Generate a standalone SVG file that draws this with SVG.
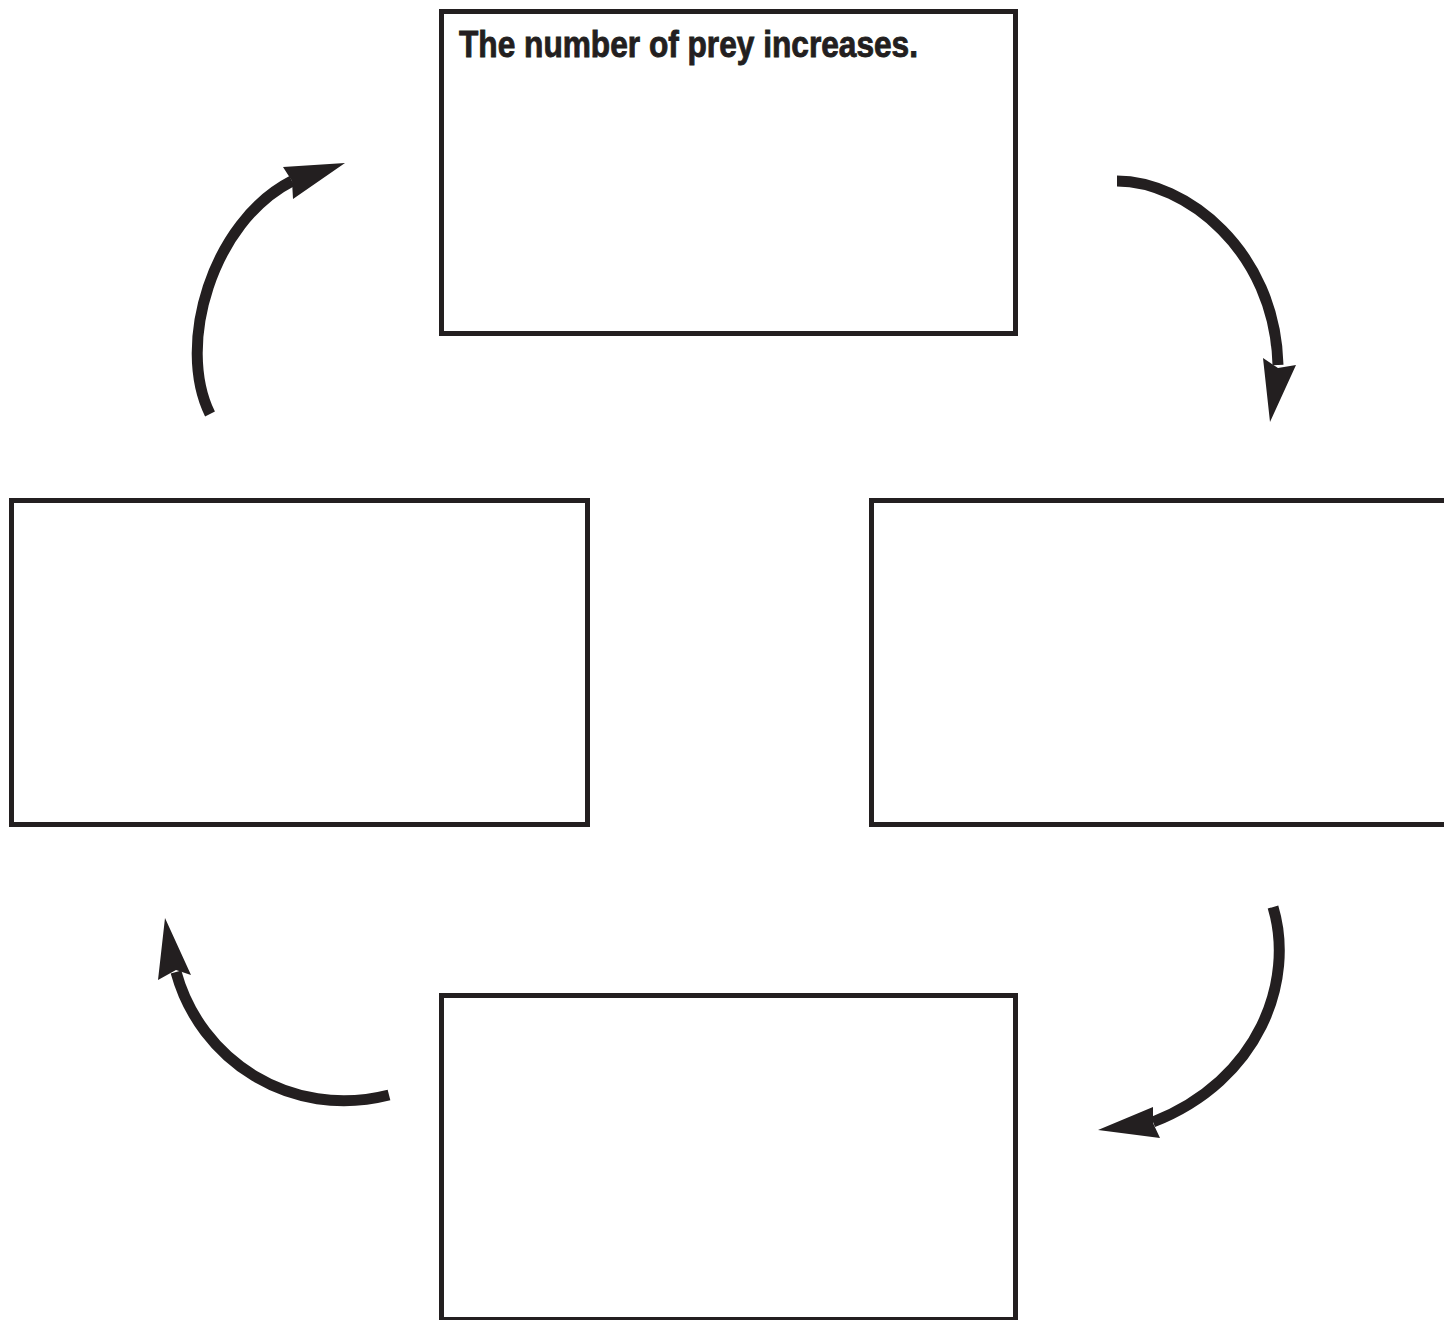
<svg xmlns="http://www.w3.org/2000/svg" width="1444" height="1320" viewBox="0 0 1444 1320">
<style>
.box{fill:#fff;stroke:#231f20;stroke-width:5}
.shaft{fill:none;stroke:#231f20;stroke-width:11}
.head{fill:#231f20}
.lbl{font-family:"Liberation Sans Narrow","Liberation Sans",Arial,sans-serif;font-stretch:condensed;font-weight:bold;font-size:37px;fill:#231f20;stroke:#231f20;stroke-width:0.9}
</style>
<rect width="1444" height="1320" fill="#fff"/>
<g id="node-top">
<rect class="box" x="441.5" y="11.5" width="574" height="322"/>
<text class="lbl" x="459" y="57" textLength="459" lengthAdjust="spacingAndGlyphs">The number of prey increases.</text>
</g>
<g id="node-right">
<rect class="box" x="871.5" y="500.5" width="576" height="324"/>
</g>
<g id="node-bottom">
<rect class="box" x="441.5" y="995.5" width="574" height="324"/>
</g>
<g id="node-left">
<rect class="box" x="11.5" y="500.5" width="576" height="324"/>
</g>
<g id="connectors">
<path class="shaft" d="M 210 414 C 176 345, 212 222, 292 181"/>
<polygon class="head" points="345,163 283,167 292,181 293,199"/>
<path class="shaft" d="M 1117 181 C 1185 181, 1275 250, 1278 365"/>
<polygon class="head" points="1270,422 1263,358 1278,368 1296,365"/>
<path class="shaft" d="M 1273 907 C 1295 980, 1260 1080, 1153 1122"/>
<polygon class="head" points="1098,1130 1153,1107 1153,1123 1160,1138"/>
<path class="shaft" d="M 389 1095 C 290 1120, 200 1060, 176 972"/>
<polygon class="head" points="165,918 158,980 176,970 191,975"/>
</g>
</svg>
